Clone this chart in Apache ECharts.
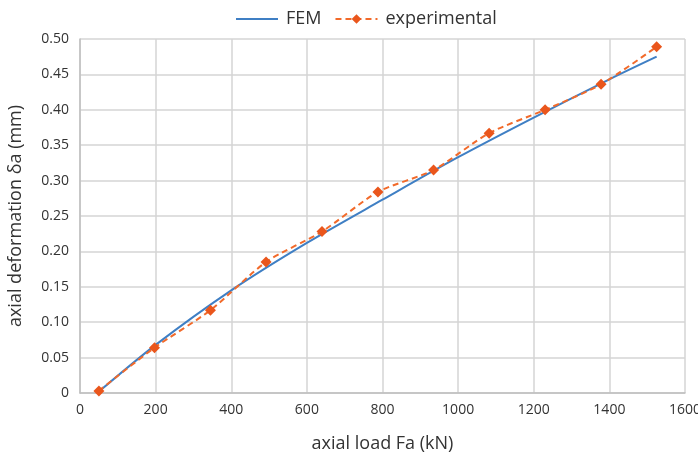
<!DOCTYPE html>
<html><head><meta charset="utf-8">
<script src="https://cdn.jsdelivr.net/npm/echarts@6/dist/echarts.min.js"></script>
<style>html,body{margin:0;padding:0;background:#fff}#c{width:698px;height:460px}</style>
</head><body><div id="c"></div>
<script>
const femX = [50, 200, 400, 600, 800, 1000, 1200, 1400, 1525];
const femY = [0.002, 0.068, 0.145, 0.212, 0.273, 0.333, 0.389, 0.443, 0.475];
const expX = [50, 197, 345, 492, 640, 788, 935, 1082, 1230, 1378, 1525];
const expY = [0.003, 0.064, 0.117, 0.185, 0.228, 0.284, 0.315, 0.367, 0.400, 0.436, 0.489];
const xTicks = [0, 200, 400, 600, 800, 1000, 1200, 1400, 1600];
const yTicks = [0, 0.05, 0.10, 0.15, 0.20, 0.25, 0.30, 0.35, 0.40, 0.45, 0.50];

const font = "'Open Sans', 'Noto Sans', sans-serif";
const chart = echarts.init(document.getElementById('c'), null, {renderer: 'canvas'});
chart.setOption({
  animation: false,
  textStyle: {fontFamily: font},
  legend: {
    top: 5, left: 230, itemGap: 13, itemWidth: 42, itemHeight: 12,
    textStyle: {fontSize: 18, color: '#333', fontFamily: font, padding: [0, 0, 0, 3]},
    data: [
      {name: 'FEM', itemStyle: {opacity: 0}},
      {name: 'experimental'}
    ]
  },
  grid: {left: 80, right: 13, top: 39, bottom: 67, containLabel: false, outerBoundsMode: 'none'},
  xAxis: {
    type: 'value', min: xTicks[0], max: xTicks[xTicks.length - 1], interval: 200,
    name: 'axial load Fa (kN)', nameLocation: 'middle', nameGap: 42,
    nameTextStyle: {fontSize: 18, color: '#333', fontFamily: font},
    axisLine: {show: true, lineStyle: {color: '#bfbfbf', width: 1.5}},
    axisTick: {show: false},
    axisLabel: {fontSize: 14, color: '#333', margin: 10, fontFamily: font,
      formatter: v => String(v)},
    splitLine: {show: true, lineStyle: {color: '#d4d4d4', width: 1.5}}
  },
  yAxis: {
    type: 'value', min: yTicks[0], max: yTicks[yTicks.length - 1], interval: 0.05,
    name: 'axial deformation δa (mm)', nameLocation: 'middle', nameGap: 55,
    nameTextStyle: {fontSize: 18, color: '#333', fontFamily: font},
    axisLine: {show: true, lineStyle: {color: '#bfbfbf', width: 1.5}},
    axisTick: {show: false},
    axisLabel: {fontSize: 14, color: '#333', margin: 11, fontFamily: font,
      formatter: v => Math.abs(v) < 1e-9 ? '0' : v.toFixed(2)},
    splitLine: {show: true, lineStyle: {color: '#d4d4d4', width: 1.5}}
  },
  series: [
    {
      name: 'FEM', type: 'line', smooth: 0.3, showSymbol: false, symbol: 'none',
      data: femX.map((x, i) => [x, femY[i]]),
      lineStyle: {color: '#3f7fc4', width: 2},
      itemStyle: {color: '#3f7fc4'}, z: 2
    },
    {
      name: 'experimental', type: 'line', smooth: 0.25, symbol: 'diamond', symbolSize: 11,
      data: expX.map((x, i) => [x, expY[i]]),
      lineStyle: {color: '#f26a2a', width: 2, type: [6, 4]},
      itemStyle: {color: '#ea561c'}, z: 3
    }
  ]
});
</script></body></html>
